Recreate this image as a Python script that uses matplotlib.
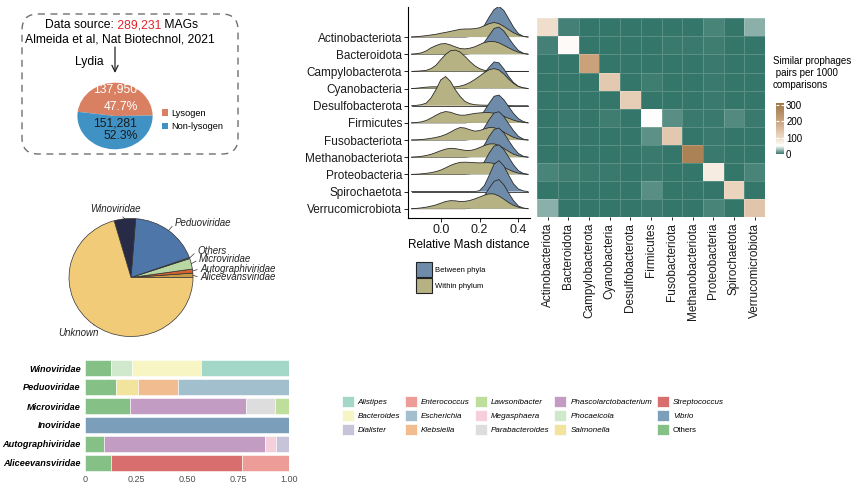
import numpy as np
import matplotlib
matplotlib.use("Agg")
from matplotlib import pyplot as plt
from matplotlib.colors import LinearSegmentedColormap
from matplotlib.patches import FancyBboxPatch, Patch

plt.rcParams["font.family"] = ["Liberation Sans", "DejaVu Sans"]

W, H = 859, 497

# lysogen pie
lysogen_labels = ["Lysogen", "Non-lysogen"]
lysogen_counts = [137950, 151281]
lysogen_pcts = ["47.7%", "52.3%"]
lysogen_colors = ["#D98062", "#4192C4"]
total_mags = "289,231"

# family pie (counterclockwise from 3 o'clock)
family_names = ["Aliceevansviridae", "Autographiviridae", "Microviridae", "Others",
                "Peduoviridae", "Winoviridae", "Unknown"]
family_pct = [1.2, 1.1, 2.9, 0.3, 18.3, 5.6, 70.6]
family_colors = ["#C89A45", "#D2622E", "#B9D7A3", "#5E8A55", "#4E76A8", "#272B45", "#F2CB78"]

# host genus composition per family
bar_families = ["Winoviridae", "Peduoviridae", "Microviridae", "Inoviridae",
                "Autographiviridae", "Aliceevansviridae"]
bar_genera = [
    ["Others", "Phocaeicola", "Bacteroides", "Alistipes"],
    ["Others", "Salmonella", "Klebsiella", "Escherichia"],
    ["Others", "Phascolarctobacterium", "Parabacteroides", "Lawsonibacter"],
    ["Vibrio"],
    ["Others", "Phascolarctobacterium", "Megasphaera", "Dialister"],
    ["Others", "Streptococcus", "Enterococcus"],
]
bar_fractions = [
    [0.125, 0.105, 0.34, 0.43],
    [0.15, 0.108, 0.2, 0.542],
    [0.219, 0.569, 0.142, 0.07],
    [1.0],
    [0.091, 0.792, 0.052, 0.065],
    [0.126, 0.642, 0.232],
]
legend_genera = ["Alistipes", "Bacteroides", "Dialister", "Enterococcus", "Escherichia",
                 "Klebsiella", "Lawsonibacter", "Megasphaera", "Parabacteroides",
                 "Phascolarctobacterium", "Phocaeicola", "Salmonella", "Streptococcus",
                 "Vibrio", "Others"]
genus_colors = {
    "Alistipes": "#A3D8C9", "Bacteroides": "#F7F5C3", "Dialister": "#C7C4DA",
    "Enterococcus": "#EE9C97", "Escherichia": "#A2BFCE", "Klebsiella": "#F2BC91",
    "Lawsonibacter": "#BEDE9C", "Megasphaera": "#F5CFDC", "Parabacteroides": "#DDDDDD",
    "Phascolarctobacterium": "#C29CC2", "Phocaeicola": "#D0E8CC", "Salmonella": "#F2E49C",
    "Streptococcus": "#D86E6D", "Vibrio": "#7B9EBA", "Others": "#85C087",
}

# ridgelines: relative Mash distance densities (in row heights)
phyla = ["Actinobacteriota", "Bacteroidota", "Campylobacterota", "Cyanobacteria",
         "Desulfobacterota", "Firmicutes", "Fusobacteriota", "Methanobacteriota",
         "Proteobacteria", "Spirochaetota", "Verrucomicrobiota"]
ridge_x = [-0.15, -0.125, -0.1, -0.075, -0.05, -0.025, 0.0, 0.025, 0.05, 0.075, 0.1,
           0.125, 0.15, 0.175, 0.2, 0.225, 0.25, 0.275, 0.3, 0.325, 0.35, 0.375, 0.4,
           0.425, 0.45]
within_density = [
    [0, 0.02, 0.05, 0.08, 0.12, 0.16, 0.22, 0.27, 0.33, 0.39, 0.45, 0.47, 0.47, 0.49, 0.54, 0.66, 0.78, 0.85, 0.78, 0.62, 0.43, 0.25, 0.12, 0.04, 0],
    [0, 0.03, 0.08, 0.19, 0.37, 0.5, 0.6, 0.62, 0.54, 0.43, 0.33, 0.31, 0.35, 0.43, 0.56, 0.68, 0.74, 0.74, 0.66, 0.52, 0.37, 0.23, 0.12, 0.04, 0],
    [0, 0.01, 0.03, 0.06, 0.16, 0.35, 0.68, 0.99, 1.2, 1.24, 1.13, 0.87, 0.58, 0.33, 0.16, 0.06, 0.02, 0.01, 0, 0, 0, 0, 0, 0, 0],
    [0, 0.02, 0.05, 0.08, 0.1, 0.1, 0.09, 0.08, 0.08, 0.1, 0.14, 0.22, 0.35, 0.52, 0.72, 0.93, 1.1, 1.16, 1.08, 0.85, 0.55, 0.3, 0.12, 0.04, 0],
    [0, 0.02, 0.06, 0.15, 0.45, 0.93, 1.5, 1.7, 1.42, 0.93, 0.54, 0.25, 0.12, 0.06, 0.04, 0.03, 0.03, 0.03, 0.03, 0.02, 0.01, 0, 0, 0, 0],
    [0, 0.02, 0.06, 0.14, 0.28, 0.44, 0.58, 0.66, 0.62, 0.52, 0.45, 0.45, 0.5, 0.55, 0.58, 0.6, 0.6, 0.56, 0.48, 0.38, 0.27, 0.16, 0.08, 0.03, 0],
    [0, 0.01, 0.03, 0.06, 0.1, 0.15, 0.22, 0.32, 0.46, 0.62, 0.73, 0.7, 0.6, 0.52, 0.55, 0.65, 0.73, 0.72, 0.62, 0.46, 0.3, 0.16, 0.07, 0.02, 0],
    [0, 0.02, 0.05, 0.1, 0.17, 0.27, 0.38, 0.47, 0.52, 0.5, 0.45, 0.4, 0.39, 0.45, 0.56, 0.68, 0.77, 0.78, 0.68, 0.52, 0.34, 0.18, 0.08, 0.03, 0],
    [0, 0.01, 0.03, 0.06, 0.1, 0.16, 0.25, 0.38, 0.52, 0.63, 0.7, 0.71, 0.7, 0.68, 0.67, 0.68, 0.68, 0.64, 0.55, 0.42, 0.28, 0.16, 0.07, 0.02, 0],
    [0, 0, 0, 0, 0, 0, 0, 0, 0, 0, 0, 0, 0, 0, 0, 0, 0, 0, 0, 0, 0, 0, 0, 0, 0],
    [0, 0.02, 0.05, 0.09, 0.15, 0.22, 0.32, 0.42, 0.47, 0.46, 0.42, 0.43, 0.48, 0.57, 0.68, 0.79, 0.87, 0.86, 0.74, 0.56, 0.36, 0.2, 0.09, 0.03, 0],
]
between_density = [
    [0, 0, 0, 0, 0, 0, 0, 0, 0, 0, 0, 0, 0.03, 0.1, 0.3, 0.68, 1.17, 1.6, 1.79, 1.55, 1.07, 0.58, 0.2, 0.04, 0],
    [0, 0, 0, 0, 0, 0, 0, 0, 0, 0, 0, 0, 0.03, 0.12, 0.35, 0.7, 1.1, 1.5, 1.58, 1.35, 0.95, 0.55, 0.22, 0.06, 0],
    [0, 0, 0, 0, 0, 0, 0, 0, 0, 0, 0, 0, 0, 0, 0, 0, 0, 0, 0, 0, 0, 0, 0, 0, 0],
    [0, 0, 0, 0, 0, 0, 0, 0, 0, 0, 0, 0, 0.05, 0.2, 0.5, 0.9, 1.25, 1.55, 1.5, 1.15, 0.7, 0.35, 0.13, 0.04, 0],
    [0, 0, 0, 0, 0, 0, 0, 0, 0, 0, 0, 0, 0, 0, 0, 0, 0, 0, 0, 0, 0, 0, 0, 0, 0],
    [0, 0, 0, 0, 0, 0, 0, 0, 0, 0, 0, 0, 0.03, 0.1, 0.3, 0.7, 1.15, 1.55, 1.62, 1.35, 0.95, 0.55, 0.25, 0.08, 0],
    [0, 0, 0, 0, 0, 0, 0, 0, 0, 0, 0, 0, 0.03, 0.1, 0.3, 0.72, 1.2, 1.58, 1.65, 1.38, 0.95, 0.55, 0.22, 0.06, 0],
    [0, 0, 0, 0, 0, 0, 0, 0, 0, 0, 0, 0, 0.03, 0.1, 0.3, 0.72, 1.22, 1.62, 1.7, 1.42, 0.97, 0.55, 0.22, 0.06, 0],
    [0, 0, 0, 0, 0, 0, 0, 0, 0, 0, 0, 0, 0.03, 0.1, 0.32, 0.74, 1.25, 1.65, 1.72, 1.45, 1.0, 0.56, 0.22, 0.06, 0],
    [0, 0, 0, 0, 0, 0, 0, 0, 0, 0, 0, 0, 0, 0, 0.05, 0.35, 0.95, 1.6, 1.8, 1.5, 0.95, 0.45, 0.15, 0.04, 0],
    [0, 0, 0, 0, 0, 0, 0, 0, 0, 0, 0, 0, 0.03, 0.1, 0.3, 0.75, 1.2, 1.6, 1.7, 1.4, 0.92, 0.47, 0.16, 0.04, 0],
]
ridge_groups = ["Between phyla", "Within phylum"]
ridge_colors = ["#6E8CAA", "#B7B283"]

# similar prophage pairs per 1000 comparisons (rows/cols in phyla order)
similar_pairs = [
    [95, 4, 0.5, 0.5, 0.5, 1, 0.5, 0.5, 6, 0.5, 21],
    [4, 57, 0.5, 0.5, 1, 1, 2, 1.5, 2.5, 0.5, 0.5],
    [0.5, 0.5, 205, 0.5, 0.5, 0.5, 0.5, 0.5, 2, 0.5, 0.5],
    [0.5, 0.5, 0.5, 131, 0.5, 3, 0.5, 0.5, 2, 0.5, 0.5],
    [0.5, 0.5, 0.5, 0.5, 123, 0.5, 0.5, 0.5, 1.5, 0.5, 0.5],
    [1, 1.5, 1, 3, 0.5, 50, 9, 1.5, 2, 8, 1.5],
    [0.5, 2, 0.5, 1, 0.5, 11, 134, 0.5, 2, 0.5, 0.5],
    [0.5, 1, 0.5, 0.5, 0.5, 1.5, 0.5, 284, 2, 0.5, 0.5],
    [6, 3, 2, 1.5, 1, 2, 0.5, 0.5, 76, 0.5, 6],
    [0.5, 0.5, 0.5, 0.5, 0.5, 9, 0.5, 0.5, 0.5, 111, 0.5],
    [21, 1, 0.5, 1, 0.5, 1.5, 0.5, 0.5, 5, 0.5, 140],
]

fig = plt.figure(figsize=(W / 100, H / 100), dpi=100)


def px_axes(x0, y0, x1, y1):
    return fig.add_axes([x0 / W, 1 - y1 / H, (x1 - x0) / W, (y1 - y0) / H])


def fxy(px, py):
    return (px / W, 1 - py / H)


# overlay in pixel coords for free text, kept above the other axes
ov = px_axes(0, 0, W, H)
ov.set_xlim(0, W)
ov.set_ylim(H, 0)
ov.axis("off")
ov.set_zorder(10)

# ---- panel A: data source box + lysogen pie
ov.add_patch(FancyBboxPatch((22, 14), 216, 140, boxstyle="round,pad=0,rounding_size=16",
                            fill=False, ec="#707070", lw=1.0, ls=(0, (5, 4))))
t1 = ov.text(45, 25, "Data source:", fontsize=8.7, ha="left", va="center")
t2 = ov.annotate(f" {total_mags}", xy=(1, 0), xycoords=t1, ha="left", va="bottom",
                 fontsize=8.7, color="#E0262B")
ov.annotate(" MAGs", xy=(1, 0), xycoords=t2, ha="left", va="bottom", fontsize=8.7)
ov.text(120, 39.5, "Almeida et al, Nat Biotechnol, 2021", fontsize=8.7, ha="center", va="center")
ov.text(75, 61.5, "Lydia", fontsize=8.7, ha="left", va="center")
ov.annotate("", xy=(115, 73), xytext=(115, 47),
            arrowprops=dict(arrowstyle="->,head_length=0.45,head_width=0.22", lw=0.9,
                            color="#222222", shrinkA=0, shrinkB=0))

ax_a = px_axes(115 - 47, 116 - 41.6, 115 + 47, 116 + 41.6)
ax_a.pie(lysogen_counts, colors=lysogen_colors, startangle=1, counterclock=True,
         wedgeprops=dict(linewidth=0))
ax_a.set_xlim(-1.25, 1.25)
ax_a.set_ylim(-1.25, 1.25)
ax_a.set_aspect("auto")
ov.text(115, 90, f"{lysogen_counts[0]:,}", color="white", fontsize=8.7, ha="center", va="center")
ov.text(121, 106.5, lysogen_pcts[0], color="white", fontsize=8.7, ha="center", va="center")
ov.text(115, 123.5, f"{lysogen_counts[1]:,}", color="#1a1a1a", fontsize=8.7, ha="center", va="center")
ov.text(121, 136, lysogen_pcts[1], color="#1a1a1a", fontsize=8.7, ha="center", va="center")
fig.legend([Patch(facecolor=c, edgecolor="none") for c in lysogen_colors], lysogen_labels,
           loc="upper left", bbox_to_anchor=fxy(161.5, 109), frameon=False, fontsize=6.7,
           handlelength=0.75, handleheight=0.75, handletextpad=0.35, labelspacing=0.45,
           borderpad=0, borderaxespad=0)

# ---- panel B: family pie
ax_b = px_axes(131 - 77.5, 277.5 - 73.75, 131 + 77.5, 277.5 + 73.75)
wedges, _ = ax_b.pie(family_pct, colors=family_colors, startangle=0, counterclock=True,
                     wedgeprops=dict(edgecolor="#333333", linewidth=0.5))
ax_b.set_xlim(-1.25, 1.25)
ax_b.set_ylim(-1.25, 1.25)
ax_b.set_aspect("auto")
label_pos = {
    "Aliceevansviridae": ((200, 277.5), "left", (0, 0.5)),
    "Autographiviridae": ((200, 268.7), "left", (0, 0.5)),
    "Microviridae": ((199, 259.5), "left", (0, 0.5)),
    "Others": ((197, 251), "left", (0, 0.5)),
    "Peduoviridae": ((175, 223), "left", (0, 0.5)),
    "Winoviridae": ((115, 209), "center", (0.6, 0)),
    "Unknown": ((78, 333), "center", (1, 0.5)),
}
for w, name in zip(wedges, family_names):
    ang = np.deg2rad((w.theta1 + w.theta2) / 2)
    pos, ha, rel = label_pos[name]
    ax_b.annotate(name, xy=(np.cos(ang), np.sin(ang)), xytext=pos, textcoords=ov.transData,
                  ha=ha, va="center", fontsize=7, style="italic", color="#222222",
                  arrowprops=dict(arrowstyle="-", lw=0.5, color="#333333",
                                  shrinkA=0, shrinkB=0, relpos=rel))

# ---- panel C: stacked host bars
ax_c = px_axes(85, 356.6, 289, 474.4)
n_fam = len(bar_families)
for i, (fam, genera, fracs) in enumerate(zip(bar_families, bar_genera, bar_fractions)):
    left = 0.0
    for g, f in zip(genera, fracs):
        ax_c.barh(n_fam - 1 - i, f, left=left, height=0.86, color=genus_colors[g],
                  edgecolor="white", linewidth=0.4)
        left += f
ax_c.set_xlim(0, 1)
ax_c.set_ylim(-0.6, n_fam - 0.4)
ax_c.set_yticks(range(n_fam))
ax_c.set_yticklabels(bar_families[::-1], fontsize=6.6, fontweight="bold", style="italic")
ax_c.set_xticks([0, 0.25, 0.5, 0.75, 1.0])
ax_c.set_xticklabels(["0", "0.25", "0.50", "0.75", "1.00"], fontsize=6.5, color="#4d4d4d")
ax_c.tick_params(axis="y", length=0, pad=3)
ax_c.tick_params(axis="x", length=0, pad=0.5)
for s in ax_c.spines.values():
    s.set_visible(False)

leg = fig.legend([Patch(facecolor=genus_colors[g], edgecolor="white", lw=0.5) for g in legend_genera],
                 legend_genera, ncol=5, loc="upper left", bbox_to_anchor=fxy(341.5, 396),
                 frameon=False, fontsize=5.8, handlelength=1.5, handleheight=1.8,
                 handletextpad=0.5, columnspacing=0.6, labelspacing=0.3,
                 borderpad=0, borderaxespad=0)
for txt in leg.get_texts():
    if txt.get_text() != "Others":
        txt.set_style("italic")

# ---- panel D: ridgelines
ax_d = px_axes(408.3, 7, 530, 218)
n_ph = len(phyla)
for i, ph in enumerate(phyla):
    base = n_ph - 1 - i
    for k, dens in enumerate([between_density[i], within_density[i]]):
        top = base + np.array(dens)
        z = 2 * i + k + 1
        ax_d.fill_between(ridge_x, base, top, facecolor=ridge_colors[k], edgecolor="none", zorder=z)
        ax_d.plot(ridge_x, top, color="#2b2b2b", lw=0.6, zorder=z + 0.5)
ax_d.set_xlim(-0.167, 0.46)
ax_d.set_ylim(-0.54, 11.75)
ax_d.set_yticks(range(n_ph))
ax_d.set_yticklabels(phyla[::-1], fontsize=8.5, color="#1a1a1a")
ax_d.set_xticks([0, 0.2, 0.4])
ax_d.set_xticklabels(["0.0", "0.2", "0.4"], fontsize=9, color="#1a1a1a")
ax_d.set_xlabel("Relative Mash distance", fontsize=8.5, labelpad=2)
ax_d.tick_params(length=3, width=0.6, pad=1.5)
ax_d.spines["top"].set_visible(False)
ax_d.spines["right"].set_visible(False)
ax_d.spines["left"].set_linewidth(0.8)
ax_d.spines["bottom"].set_linewidth(0.8)
fig.legend([Patch(facecolor=c, edgecolor="#222222", lw=0.8) for c in ridge_colors], ridge_groups,
           loc="upper left", bbox_to_anchor=fxy(416, 262), frameon=False, fontsize=5.5,
           handlelength=2.1, handleheight=2.6, handletextpad=0.4, labelspacing=0.2,
           borderpad=0, borderaxespad=0)

# ---- panel E: heatmap
cmap = LinearSegmentedColormap.from_list(
    "teal_brown", [(0, "#35766A"), (50 / 315, "#FFFFFF"), (100 / 315, "#EEDAC6"),
                   (200 / 315, "#CBA47F"), (1, "#9E7546")])
ax_e = px_axes(537.3, 18.3, 765, 217.3)
mesh = ax_e.pcolormesh(np.array(similar_pairs), cmap=cmap, vmin=0, vmax=315,
                       edgecolors=(1, 1, 1, 0.18), linewidth=0.4)
ax_e.set_xlim(0, n_ph)
ax_e.set_ylim(n_ph, 0)
ax_e.set_xticks(np.arange(n_ph) + 0.5)
ax_e.set_xticklabels(phyla, rotation=90, fontsize=8.5, color="#1a1a1a")
ax_e.set_yticks([])
ax_e.tick_params(axis="x", length=2.5, width=0.6, pad=1.5)
for s in ax_e.spines.values():
    s.set_visible(False)

cax = px_axes(776, 102.6, 784, 154)
cb = fig.colorbar(mesh, cax=cax, ticks=[0, 100, 200, 300])
cb.outline.set_visible(False)
cax.yaxis.set_ticks_position("both")
cax.tick_params(labelsize=7, length=2, width=0.8, color="white", direction="in",
                pad=1.5, labelleft=False, labelright=True)
ov.text(773, 56, "Similar prophages\n pairs per 1000\ncomparisons", fontsize=7,
        ha="left", va="top", linespacing=1.25)

fig.savefig("out.png", dpi=100)
